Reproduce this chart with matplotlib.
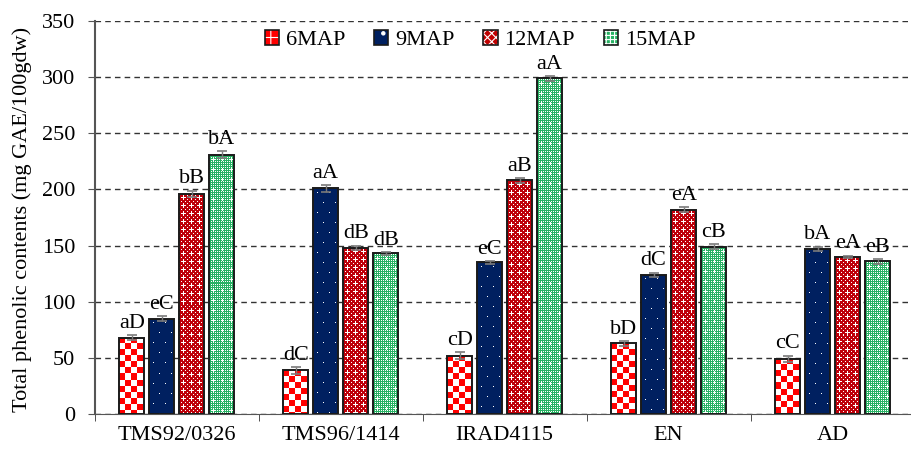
import matplotlib
matplotlib.use("Agg")
import matplotlib.pyplot as plt
from matplotlib.patches import Patch
from matplotlib.legend_handler import HandlerTuple
import numpy as np

plt.rcParams['font.family'] = ['Liberation Serif', 'DejaVu Serif']
plt.rcParams['hatch.linewidth'] = 0.8

cultivars = ["TMS92/0326", "TMS96/1414", "IRAD4115", "EN", "AD"]
series = ["6MAP", "9MAP", "12MAP", "15MAP"]

map6 = [68, 39, 52, 63, 49]
map9 = [85, 201, 135, 124, 147]
map12 = [196, 148, 208, 182, 140]
map15 = [231, 143, 299, 149, 136]

err6 = [2, 3, 3, 2, 3]
err9 = [2, 3, 1, 2, 2]
err12 = [3, 2, 2, 2, 1]
err15 = [3, 1, 2, 2, 2]

lab6 = ["aD", "dC", "cD", "bD", "cC"]
lab9 = ["eC", "aA", "eC", "dC", "bA"]
lab12 = ["bB", "dB", "aB", "eA", "eA"]
lab15 = ["bA", "dB", "aA", "cB", "eB"]

values = [map6, map9, map12, map15]
errors = [err6, err9, err12, err15]
letters = [lab6, lab9, lab12, lab15]

RED = np.array([255, 0, 0]) / 255
NAVY = np.array([0, 32, 96]) / 255
DRED = np.array([190, 0, 10]) / 255
GREEN = np.array([40, 178, 100]) / 255
WHITE = np.ones(3)


def texture(kind, w, h):
    # simple pixel patterns standing in for the Excel fills
    yy, xx = np.mgrid[0:h, 0:w]
    img = np.zeros((h, w, 3))
    if kind == 0:
        mask = ((xx // 6 + yy // 6) % 2) == 1
        img[:] = RED
    elif kind == 1:
        mask = (yy % 10 == 4) & ((xx + (yy // 10 % 2) * 6) % 12 == 4)
        img[:] = NAVY
    elif kind == 2:
        mask = ((xx % 4 == 0) & (yy % 4 == 2)) | ((xx % 4 == 2) & (yy % 4 == 0))
        cx, cy = xx % 8, yy % 8
        mask |= ((cx == 4) & (abs(cy - 4) <= 1)) | ((cy == 4) & (abs(cx - 4) <= 1))
        img[:] = DRED
    else:
        mask = ((xx % 2 == 0) & (yy % 2 == 1))
        cx, cy = xx % 9, yy % 10
        mask |= ((cx == 4) & (abs(cy - 5) <= 1)) | ((cy == 5) & (abs(cx - 4) <= 1))
        img[:] = GREEN
    img[mask] = WHITE
    return img


fig = plt.figure(figsize=(9.11, 4.49), dpi=100)
ax = fig.add_axes([0.104, 0.078, 0.90, 0.875])
ax.set_xlim(-0.5, 4.5)
ax.set_ylim(0, 350)

px_x = 0.90 * 911 / 5.0      # pixels per x unit
px_y = 0.875 * 449 / 350.0   # pixels per y unit

x = np.arange(len(cultivars))
step = 0.183
width = 0.152
offsets = [-1.5 * step, -0.5 * step, 0.5 * step, 1.5 * step]

for i in range(4):
    xs = x + offsets[i]
    bars = ax.bar(xs, values[i], width, facecolor="white", edgecolor="none", zorder=2)
    for b in bars:
        w = max(1, int(round(b.get_width() * px_x)))
        h = max(1, int(round(b.get_height() * px_y)))
        img = ax.imshow(texture(i, w, h)[::-1],
                        extent=(b.get_x(), b.get_x() + b.get_width(), 0, b.get_height()),
                        origin="lower", aspect="auto", interpolation="nearest", zorder=2.5)
        img.set_clip_path(b)
    ax.bar(xs, values[i], width, facecolor="none", edgecolor="#1a1a1a", linewidth=1.4, zorder=3)
    ax.errorbar(xs, values[i], yerr=errors[i], fmt="none", ecolor="#7a7a7a",
                elinewidth=1, capsize=3.5, capthick=1.2, zorder=4)
    for xx, v, e, t in zip(xs, values[i], errors[i], letters[i]):
        ax.text(xx, v + e + 2, t, ha="center", va="bottom", fontsize=16, zorder=5)

ax.set_xlim(-0.5, 4.5)
ax.set_ylim(0, 350)
ax.set_yticks(np.arange(0, 351, 50))
ax.yaxis.grid(True, linestyle=(0, (4, 3)), color="#333333", linewidth=1)
ax.set_axisbelow(True)
ax.tick_params(axis="y", labelsize=16, length=5, direction="out", color="#555555", pad=9)

ax.set_xticks(x)
ax.set_xticklabels(cultivars, fontsize=16)
ax.tick_params(axis="x", which="major", length=0, pad=9)
ax.set_xticks(np.arange(-0.5, 5, 1), minor=True)
ax.tick_params(axis="x", which="minor", length=5, color="#333333")

ax.spines["top"].set_visible(False)
ax.spines["right"].set_visible(False)
ax.spines["left"].set_color("#555555")
ax.spines["left"].set_linewidth(1.5)
ax.spines["bottom"].set_color("#555555")

ax.set_ylabel("Total phenolic contents (mg GAE/100gdw)", fontsize=16)
ax.yaxis.set_label_coords(-0.077, 0.495)

hatch_faces = [("#ff0000", "++"), ("#002060", "."), ("#c00000", "xxxx"), ("#28b264", "++++")]
handles = []
for fc, hp in hatch_faces:
    handles.append((Patch(facecolor=fc, edgecolor="white", hatch=hp, linewidth=0),
                    Patch(facecolor="none", edgecolor="#1a1a1a", linewidth=1.2)))
leg = ax.legend(handles, series, loc="center", bbox_to_anchor=(0.47, 0.952), ncol=4,
                frameon=False, fontsize=16, handlelength=0.65, handleheight=0.65,
                handletextpad=0.3, columnspacing=1.3,
                handler_map={tuple: HandlerTuple(ndivide=1)})
leg.set_zorder(6)

fig.savefig("out.png", dpi=100)
